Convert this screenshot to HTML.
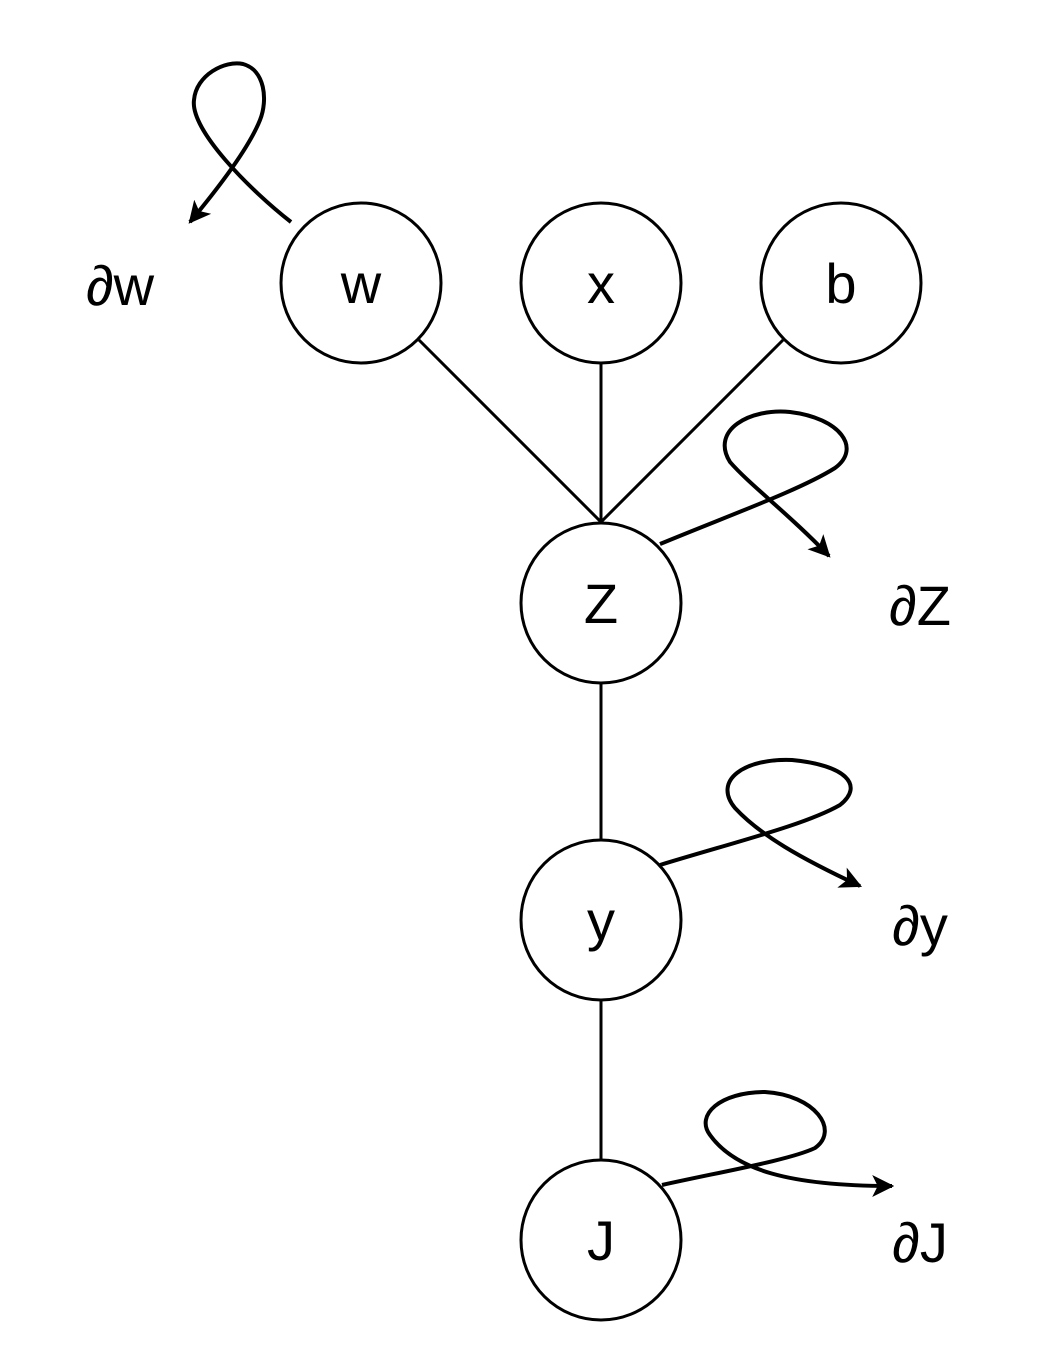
<!DOCTYPE html>
<html><head><style>body{margin:0;background:#fff}svg{display:block}</style></head><body>
<svg width="1044" height="1364" viewBox="0 0 1044 1364" xmlns="http://www.w3.org/2000/svg">
<defs><marker id="a" viewBox="0 0 10 10" refX="9" refY="5" markerWidth="5.5" markerHeight="5.5" orient="auto" markerUnits="strokeWidth"><path d="M0,0L10,5L0,10L2.5,5z" fill="#000"/></marker></defs>
<g fill="none" stroke="#000" stroke-width="3">
<circle cx="361" cy="283" r="80"/><circle cx="601" cy="283" r="80"/><circle cx="841" cy="283" r="80"/>
<circle cx="601" cy="603" r="80"/><circle cx="601" cy="920" r="80"/><circle cx="601" cy="1240" r="80"/>
<path d="M419,340L601,522L783,340M601,363V522M601,683V840M601,1000V1160"/>
<g stroke-width="4">
<path marker-end="url(#a)" d="M291,222 C250,190 190,130 194,100 C196,75 225,60 243,64 C265,70 268,100 260,120 C250,145 225,180 190,222"/>
<path marker-end="url(#a)" d="M660,544 C730,515 800,490 835,468 C862,448 840,418 790,412 C750,408 710,430 730,462 C750,485 790,515 829,556"/>
<path marker-end="url(#a)" d="M660,865 C735,842 805,825 840,805 C865,785 845,765 792,760 C745,758 712,780 735,808 C760,835 800,858 860,886"/>
<path marker-end="url(#a)" d="M662,1185 C720,1172 790,1160 815,1148 C840,1130 815,1095 765,1092 C720,1092 695,1115 710,1135 C735,1170 790,1186 892,1186"/>
</g></g>
<g font-family="Liberation Sans, sans-serif" font-size="56" text-anchor="middle" fill="#000">
<text x="361" y="303">w</text><text x="601" y="303">x</text><text x="841" y="303">b</text>
<text x="601" y="623">Z</text><text x="601" y="940">y</text><text x="601" y="1260">J</text>
<text x="120" y="305">∂w</text><text x="920" y="625">∂Z</text><text x="920" y="945">∂y</text><text x="920" y="1262">∂J</text>
</g>
</svg>
</body></html>
